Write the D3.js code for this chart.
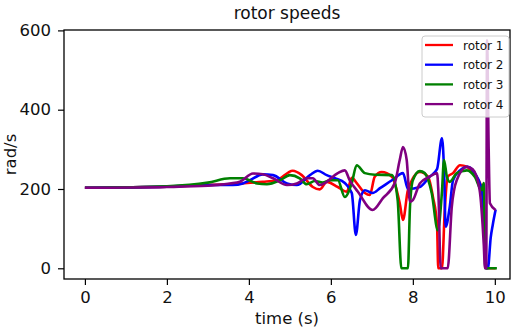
<!DOCTYPE html>
<html>
<head>
<meta charset="utf-8">
<script src="https://cdn.jsdelivr.net/npm/d3@7"></script>
<style>
  body { margin: 0; background: #fff; }
  svg { display: block; font-family: "DejaVu Sans", sans-serif; }
</style>
</head>
<body>
<svg id="chart"></svg>
<script>
// rotor speeds, values (time in s, speed in rad/s)

const seriesNames = ["rotor 1", "rotor 2", "rotor 3", "rotor 4"];
const seriesColors = ["#ff0000", "#0000ff", "#008000", "#800080"];

const time1 = [0, 2.0, 3.0, 3.78, 4.34, 4.68, 5.07, 5.29, 5.56, 5.73, 5.9, 6.17, 6.39, 6.51, 6.63, 6.83, 6.95, 7.07, 7.24, 7.49, 7.68, 7.76, 7.88, 8.17, 8.37, 8.49, 8.59, 8.62, 8.71, 8.78, 8.85, 8.98, 9.15, 9.32, 9.46, 9.68, 9.76, 9.79, 10.02];
const rotor1 = [203, 206, 210, 214, 218, 222, 246, 235, 205, 199, 218, 205, 193, 228, 215, 190, 185, 231, 243, 231, 164, 122, 197, 243, 231, 180, 110, 0, 0, 150, 231, 240, 260, 256, 240, 205, 100, 0, 0];

const time2 = [0, 2.0, 3.0, 3.61, 3.85, 4.02, 4.34, 4.59, 4.93, 5.17, 5.49, 5.68, 5.9, 6.1, 6.34, 6.51, 6.61, 6.71, 6.83, 7.02, 7.2, 7.49, 7.76, 7.88, 8.17, 8.41, 8.59, 8.71, 8.76, 8.8, 8.9, 8.98, 9.15, 9.34, 9.51, 9.68, 9.76, 9.79, 9.83, 9.9, 9.95, 10.02];
const rotor2 = [203, 206, 210, 210, 214, 222, 237, 235, 214, 210, 235, 246, 235, 227, 215, 190, 84, 172, 197, 190, 202, 222, 240, 200, 205, 231, 250, 328, 250, 105, 155, 222, 247, 256, 240, 197, 71, 0, 0, 78, 110, 148];

const time3 = [0, 2.0, 3.0, 3.54, 3.85, 4.2, 4.44, 4.76, 5.0, 5.24, 5.41, 5.61, 5.8, 5.98, 6.17, 6.34, 6.51, 6.63, 6.83, 7.07, 7.49, 7.63, 7.72, 7.88, 7.93, 8.0, 8.17, 8.29, 8.46, 8.61, 8.71, 8.76, 8.83, 8.9, 9.07, 9.32, 9.51, 9.68, 9.73, 9.77, 10.05];
const rotor3 = [203, 207, 216, 227, 227, 214, 212, 222, 235, 227, 212, 220, 216, 222, 222, 180, 215, 260, 240, 236, 235, 172, 0, 0, 155, 222, 245, 240, 190, 96, 193, 273, 231, 218, 240, 247, 231, 197, 215, 0, 0];

const time4 = [0, 2.0, 3.0, 3.54, 3.78, 4.1, 4.34, 4.59, 4.93, 5.17, 5.41, 5.56, 5.73, 5.85, 6.17, 6.34, 6.46, 6.66, 7.02, 7.27, 7.56, 7.68, 7.76, 7.85, 7.93, 8.0, 8.17, 8.41, 8.59, 8.62, 8.68, 8.85, 8.95, 9.07, 9.32, 9.46, 9.63, 9.73, 9.76, 9.79, 9.81, 9.85, 9.88, 10.02];
const rotor4 = [203, 205, 208, 214, 218, 239, 237, 227, 210, 214, 227, 227, 210, 215, 240, 247, 222, 193, 147, 177, 215, 273, 306, 273, 168, 172, 214, 231, 240, 200, 0, 0, 155, 222, 256, 250, 197, 60, 0, 0, 575, 300, 164, 147];

const xTicks = [0, 2, 4, 6, 8, 10];
const yTicks = [0, 200, 400, 600];

const allTimes = [time1, time2, time3, time4];
const allValues = [rotor1, rotor2, rotor3, rotor4];

const width = 518;
const height = 328;
const plotLeft = 64, plotTop = 30, plotRight = 510, plotBottom = 279;

const svg = d3.select("#chart").attr("width", width).attr("height", height);

const x = d3.scaleLinear().domain([-0.51, 10.37]).range([plotLeft, plotRight]);
const y = d3.scaleLinear().domain([-27, 601]).range([plotBottom, plotTop]);

svg.append("clipPath").attr("id", "plot-clip")
  .append("rect")
  .attr("x", plotLeft).attr("y", plotTop)
  .attr("width", plotRight - plotLeft).attr("height", plotBottom - plotTop);

const line = d3.line()
  .x(d => x(d[0]))
  .y(d => y(d[1]))
  .curve(d3.curveMonotoneX);

const lines = svg.append("g").attr("clip-path", "url(#plot-clip)");

for (let i = 0; i < allValues.length; i++) {
  const pts = allTimes[i].map((t, j) => [t, allValues[i][j]]);
  lines.append("path")
    .datum(pts)
    .attr("d", line)
    .attr("fill", "none")
    .attr("stroke", seriesColors[i])
    .attr("stroke-width", 2.6)
    .attr("stroke-linejoin", "round");
}

// axes
const xAxis = svg.append("g")
  .attr("transform", `translate(0,${plotBottom})`)
  .call(d3.axisBottom(x).tickValues(xTicks).tickSize(6).tickPadding(6).tickFormat(d3.format("d")));

const yAxis = svg.append("g")
  .attr("transform", `translate(${plotLeft},0)`)
  .call(d3.axisLeft(y).tickValues(yTicks).tickSize(6).tickPadding(7).tickFormat(d3.format("d")));

[xAxis, yAxis].forEach(a => {
  a.select(".domain").remove();
  a.selectAll(".tick line").attr("stroke", "#000").attr("stroke-width", 1.2);
  a.selectAll(".tick text")
    .attr("fill", "#111")
    .style("font-size", "16.5px")
    .style("font-family", "DejaVu Sans, sans-serif");
});

// frame
svg.append("rect")
  .attr("x", plotLeft).attr("y", plotTop)
  .attr("width", plotRight - plotLeft).attr("height", plotBottom - plotTop)
  .attr("fill", "none")
  .attr("stroke", "#000")
  .attr("stroke-width", 1.3);

svg.append("text")
  .attr("x", (plotLeft + plotRight) / 2)
  .attr("y", 19)
  .attr("text-anchor", "middle")
  .attr("fill", "#111")
  .style("font-size", "17px")
  .text("rotor speeds");

svg.append("text")
  .attr("x", (plotLeft + plotRight) / 2)
  .attr("y", 324)
  .attr("text-anchor", "middle")
  .attr("fill", "#111")
  .style("font-size", "16.5px")
  .text("time (s)");

svg.append("text")
  .attr("transform", `translate(16,${(plotTop + plotBottom) / 2}) rotate(-90)`)
  .attr("text-anchor", "middle")
  .attr("fill", "#111")
  .style("font-size", "16.5px")
  .text("rad/s");

// legend
const legend = svg.append("g");
legend.append("rect")
  .attr("x", 422).attr("y", 36)
  .attr("width", 87).attr("height", 81)
  .attr("rx", 3)
  .attr("fill", "#fff").attr("fill-opacity", 0.8)
  .attr("stroke", "#ccc").attr("stroke-width", 1);

seriesNames.forEach((name, i) => {
  const ly = 45 + i * 19.7;
  legend.append("line")
    .attr("x1", 425).attr("x2", 453)
    .attr("y1", ly).attr("y2", ly)
    .attr("stroke", seriesColors[i])
    .attr("stroke-width", 2.3);
  legend.append("text")
    .attr("x", 463).attr("y", ly + 4.5)
    .attr("fill", "#111")
    .style("font-size", "12px")
    .text(name);
});
</script>
</body>
</html>
